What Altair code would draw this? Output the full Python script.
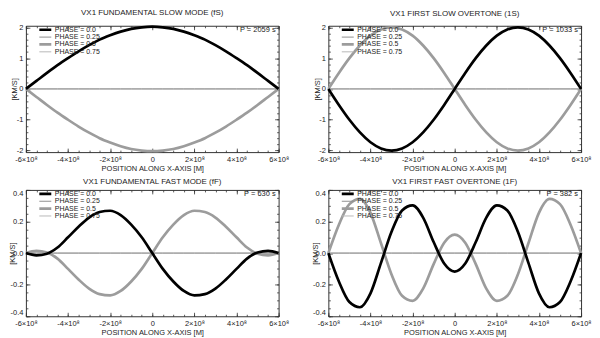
import altair as alt
import pandas as pd

FONT = "Liberation Sans"

# positions along x-axis, in units of 1e8 m
X_POS = [-6.0, -5.5, -5.0, -4.5, -4.0, -3.5, -3.0, -2.5, -2.0, -1.5, -1.0, -0.5, 0.0,
         0.5, 1.0, 1.5, 2.0, 2.5, 3.0, 3.5, 4.0, 4.5, 5.0, 5.5, 6.0]

# phases 0.25 and 0.75 lie on the zero line
ZERO = [0.0, 0.0, 0.0, 0.0, 0.0, 0.0, 0.0, 0.0, 0.0, 0.0, 0.0, 0.0, 0.0,
        0.0, 0.0, 0.0, 0.0, 0.0, 0.0, 0.0, 0.0, 0.0, 0.0, 0.0, 0.0]

# fundamental slow mode (fS), km/s
FS_P00 = [0.0, 0.26, 0.52, 0.77, 1.0, 1.22, 1.42, 1.6, 1.74, 1.86, 1.95, 2.0, 2.02,
          2.0, 1.95, 1.86, 1.74, 1.6, 1.42, 1.22, 1.0, 0.77, 0.52, 0.26, 0.0]
FS_P50 = [0.0, -0.26, -0.52, -0.77, -1.0, -1.22, -1.42, -1.6, -1.74, -1.86, -1.95, -2.0, -2.02,
          -2.0, -1.95, -1.86, -1.74, -1.6, -1.42, -1.22, -1.0, -0.77, -0.52, -0.26, 0.0]

# first slow overtone (1S)
S1_P00 = [0.0, -0.52, -1.0, -1.41, -1.73, -1.93, -2.0, -1.93, -1.73, -1.41, -1.0, -0.52, 0.0,
          0.52, 1.0, 1.41, 1.73, 1.93, 2.0, 1.93, 1.73, 1.41, 1.0, 0.52, 0.0]
S1_P50 = [0.0, 0.52, 1.0, 1.41, 1.73, 1.93, 2.0, 1.93, 1.73, 1.41, 1.0, 0.52, 0.0,
          -0.52, -1.0, -1.41, -1.73, -1.93, -2.0, -1.93, -1.73, -1.41, -1.0, -0.52, 0.0]

# fundamental fast mode (fF)
FF_P00 = [0.0, -0.014, -0.004, 0.035, 0.10, 0.167, 0.225, 0.26, 0.268, 0.24, 0.18, 0.10, 0.0,
          -0.10, -0.18, -0.24, -0.268, -0.26, -0.225, -0.167, -0.10, -0.035, 0.004, 0.014, 0.0]
FF_P50 = [0.0, 0.014, 0.004, -0.035, -0.10, -0.167, -0.225, -0.26, -0.268, -0.24, -0.18, -0.10, 0.0,
          0.10, 0.18, 0.24, 0.268, 0.26, 0.225, 0.167, 0.10, 0.035, -0.004, -0.014, 0.0]

# first fast overtone (1F)
F1_P00 = [0.0, -0.18, -0.31, -0.343, -0.255, -0.062, 0.135, 0.27, 0.302, 0.225, 0.07, -0.066, -0.117,
          -0.066, 0.07, 0.225, 0.302, 0.27, 0.135, -0.062, -0.255, -0.343, -0.31, -0.18, 0.0]
F1_P50 = [0.0, 0.18, 0.31, 0.343, 0.255, 0.062, -0.135, -0.27, -0.302, -0.225, -0.07, 0.066, 0.117,
          0.066, -0.07, -0.225, -0.302, -0.27, -0.135, 0.062, 0.255, 0.343, 0.31, 0.18, 0.0]

PANEL_TITLES = ["VX1 FUNDAMENTAL SLOW MODE (fS)", "VX1 FIRST SLOW OVERTONE (1S)",
                "VX1 FUNDAMENTAL FAST MODE (fF)", "VX1 FIRST FAST OVERTONE (1F)"]
PERIODS = ["P = 2059 s", "P = 1033 s", "P = 630 s", "P = 382 s"]

PHASES = ["0.0", "0.25", "0.5", "0.75"]
PHASE_COLORS = ["#000000", "#8f8f8f", "#9c9c9c", "#b8b8b8"]
PHASE_WIDTHS = [2.7, 1.0, 2.7, 1.0]

X_MAJOR = [-6, -4, -2, 0, 2, 4, 6]
X_MINOR = [-6.0, -5.5, -5.0, -4.5, -4.0, -3.5, -3.0, -2.5, -2.0, -1.5, -1.0, -0.5, 0.0,
           0.5, 1.0, 1.5, 2.0, 2.5, 3.0, 3.5, 4.0, 4.5, 5.0, 5.5, 6.0]
Y_DOMAIN_SLOW = [-2.05, 2.05]
Y_MAJOR_SLOW = [-2, -1, 0, 1, 2]
Y_MINOR_SLOW = [-2.0, -1.8, -1.6, -1.4, -1.2, -1.0, -0.8, -0.6, -0.4, -0.2, 0.0,
                0.2, 0.4, 0.6, 0.8, 1.0, 1.2, 1.4, 1.6, 1.8, 2.0]
Y_DOMAIN_FAST = [-0.4, 0.4]
Y_MAJOR_FAST = [-0.4, -0.2, 0.0, 0.2, 0.4]
Y_MINOR_FAST = [-0.4, -0.35, -0.3, -0.25, -0.2, -0.15, -0.1, -0.05, 0.0,
                0.05, 0.1, 0.15, 0.2, 0.25, 0.3, 0.35, 0.4]

W, H = 254, 127
TXT = "#222222"
TICK = "#333333"

XLAB = "datum.value == 0 ? '0' : (datum.value < 0 ? '-' : '') + abs(datum.value) + '×10⁸'"
YLAB_SLOW = "datum.value == 0 ? '0' : (datum.value < 0 ? '-' : '') + abs(datum.value)"
YLAB_FAST = "(datum.value < 0 ? '-' : '') + format(abs(datum.value), '.1f')"


def tick_layer(df, xs, ys, xorient, yorient, xv, yv, size):
    return alt.Chart(df).mark_point(opacity=0).encode(
        x=alt.X("x:Q", scale=xs, axis=alt.Axis(orient=xorient, values=xv, labels=False, domain=False,
                                               grid=False, tickSize=size, offset=-size, title=None,
                                               tickColor=TICK, tickWidth=0.8)),
        y=alt.Y("v:Q", scale=ys, axis=alt.Axis(orient=yorient, values=yv, labels=False, domain=False,
                                               grid=False, tickSize=size, offset=-size, title=None,
                                               tickColor=TICK, tickWidth=0.8)),
    )


def make_panel(title, period, p00, p50, ydom, ymaj, ymin, ylab, title_x, yflush):
    rows = []
    for ph, vals in [("0.75", ZERO), ("0.25", ZERO), ("0.5", p50), ("0.0", p00)]:
        for x, v in zip(X_POS, vals):
            rows.append({"x": x, "v": v, "phase": ph})
    df = pd.DataFrame(rows)
    xs = alt.Scale(domain=[-6, 6], nice=False, zero=False)
    ys = alt.Scale(domain=ydom, nice=False, zero=False)
    leg = alt.Legend(orient="none", legendX=12, legendY=1, title=None, padding=0,
                     labelExpr="'PHASE = ' + datum.label", symbolType="stroke", symbolSize=144,
                     labelFont=FONT, labelFontSize=7, labelColor=TXT, rowPadding=0.4,
                     clipHeight=6, labelOffset=2)
    lines = alt.Chart(df).mark_line(interpolate="monotone").encode(
        x=alt.X("x:Q", scale=xs,
                axis=alt.Axis(orient="bottom", values=X_MAJOR, ticks=False, domain=False, grid=False,
                              labelExpr=XLAB, labelPadding=3, labelFlush=False,
                              title="POSITION ALONG X-AXIS [M]", titlePadding=2)),
        y=alt.Y("v:Q", scale=ys,
                axis=alt.Axis(orient="left", values=ymaj, ticks=False, domain=False, grid=False,
                              labelExpr=ylab, labelPadding=3, labelFlush=yflush,
                              title="[KM/S]", titleX=title_x, titleY=H / 2, titleBaseline="middle")),
        color=alt.Color("phase:N", scale=alt.Scale(domain=PHASES, range=PHASE_COLORS), legend=leg),
        strokeWidth=alt.StrokeWidth("phase:N",
                                    scale=alt.Scale(type="ordinal", domain=PHASES, range=PHASE_WIDTHS),
                                    legend=leg),
    )
    ptxt = alt.Chart(pd.DataFrame({"t": [period]})).mark_text(
        align="right", baseline="middle", font=FONT, fontSize=7.5, color=TXT
    ).encode(x=alt.value(W - 3), y=alt.value(4), text="t:N")
    layers = [
        lines,
        tick_layer(df, xs, ys, "bottom", "left", X_MAJOR, ymaj, 4),
        tick_layer(df, xs, ys, "top", "right", X_MAJOR, ymaj, 4),
        tick_layer(df, xs, ys, "bottom", "left", X_MINOR, ymin, 2),
        tick_layer(df, xs, ys, "top", "right", X_MINOR, ymin, 2),
        ptxt,
    ]
    return alt.layer(*layers).resolve_axis(x="independent", y="independent").properties(
        width=W, height=H,
        title=alt.TitleParams(title, frame="group", anchor="middle"),
    )


p0 = make_panel(PANEL_TITLES[0], PERIODS[0], FS_P00, FS_P50, Y_DOMAIN_SLOW, Y_MAJOR_SLOW, Y_MINOR_SLOW, YLAB_SLOW, -11, False)
p1 = make_panel(PANEL_TITLES[1], PERIODS[1], S1_P00, S1_P50, Y_DOMAIN_SLOW, Y_MAJOR_SLOW, Y_MINOR_SLOW, YLAB_SLOW, -11, False)
p2 = make_panel(PANEL_TITLES[2], PERIODS[2], FF_P00, FF_P50, Y_DOMAIN_FAST, Y_MAJOR_FAST, Y_MINOR_FAST, YLAB_FAST, -13, True)
p3 = make_panel(PANEL_TITLES[3], PERIODS[3], F1_P00, F1_P50, Y_DOMAIN_FAST, Y_MAJOR_FAST, Y_MINOR_FAST, YLAB_FAST, -13, True)

chart = alt.concat(p0, p1, p2, p3, columns=2, spacing={"row": 38, "column": 50}).resolve_scale(
    x="independent", y="independent", color="independent", strokeWidth="independent"
).resolve_legend(color="independent", strokeWidth="independent").properties(
    bounds="flush", padding=0
).configure_view(stroke=TICK, strokeWidth=1).configure_axis(
    labelFont=FONT, titleFont=FONT, labelFontSize=7.5, titleFontSize=7.5,
    labelColor=TXT, titleColor=TXT, titleFontWeight="normal"
).configure_title(
    font=FONT, fontSize=8, fontWeight="normal", color=TXT, offset=0
)

chart.save("out.html", embed_options={"renderer": "svg", "actions": False})
